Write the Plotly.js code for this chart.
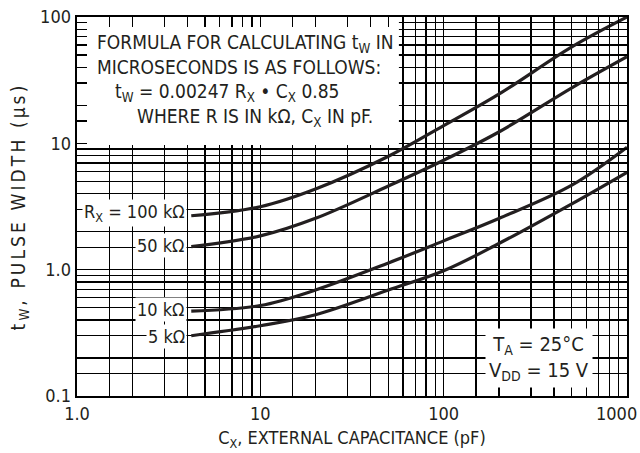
<!DOCTYPE html>
<html>
<head>
<meta charset="utf-8">
<script src="https://cdn.plot.ly/plotly-3.0.1.min.js"></script>
<style>
html,body{margin:0;padding:0;background:#fff;}
#chart{width:640px;height:453px;}
#chart .ytitle{letter-spacing:3.1px;}
</style>
</head>
<body>
<div id="chart"></div>
<script>
// External capacitance (pF)
const capacitance = [4.2, 10, 20, 50, 100, 200, 500, 1000];
// Pulse width (µs) per timing resistor
const tw100k = [2.67, 3.15, 4.35, 7.9, 13.8, 24.5, 58, 100];
const tw50k  = [1.52, 1.85, 2.55, 4.6, 7.35, 12.3, 27.5, 48.5];
const tw10k  = [0.47, 0.52, 0.69, 1.13, 1.69, 2.54, 4.66, 9.3];
const tw5k   = [0.30, 0.36, 0.44, 0.69, 0.98, 1.61, 3.32, 5.9];
const seriesNames = ["100 kΩ", "50 kΩ", "10 kΩ", "5 kΩ"];

// Tick labels and grid positions
const xTickVals = [1, 10, 100];
const xTickText = ["1.0", "10", "100"];
const xEndLabel = "1000";
const xMinorVals = [1.5, 2, 3, 4, 5, 6, 7, 8, 9,
                    15, 20, 30, 40, 50, 60, 70, 80, 90,
                    150, 200, 300, 400, 500, 600, 700, 800, 900, 1000];
const yTickVals = [0.1, 1, 10, 100];
const yTickText = ["0.1", "1.0", "10", "100"];
const yMinorVals = [0.15, 0.2, 0.3, 0.4, 0.5, 0.6, 0.7, 0.8, 0.9,
                    1.5, 2, 3, 4, 5, 6, 7, 8, 9,
                    15, 20, 30, 40, 50, 60, 70, 80, 90];

const ink = "#231f20";
const FONT = "'DejaVu Sans Condensed', 'DejaVu Sans', sans-serif";

const curves = [tw100k, tw50k, tw10k, tw5k].map((ys, i) => ({
  x: capacitance, y: ys, type: "scatter", mode: "lines", name: seriesNames[i],
  line: {color: ink, width: 3.2, shape: "spline", smoothing: 1.0},
  hoverinfo: "skip", showlegend: false
}));

const minorCommon = {
  tickmode: "array", ticks: "inside", ticklen: 10, tickwidth: 1.3, tickcolor: "#000",
  showgrid: true, gridcolor: "#000", gridwidth: 1.3
};

const axisCommon = {
  type: "log", showgrid: true, gridcolor: "#000", gridwidth: 1.3,
  ticks: "inside", ticklen: 10, tickwidth: 1.3, tickcolor: "#000",
  showline: true, linecolor: "#000", linewidth: 2.4, mirror: "allticks",
  zeroline: false, tickmode: "array",
  tickfont: {family: FONT, size: 18, color: ink}
};

const layout = {
  width: 640, height: 453,
  margin: {l: 77, r: 13, t: 17, b: 57},
  paper_bgcolor: "#fff", plot_bgcolor: "#fff",
  font: {family: FONT, color: ink},
  xaxis: Object.assign({}, axisCommon, {
    range: [0, 3],
    tickvals: xTickVals, ticktext: xTickText,
    minor: Object.assign({}, minorCommon, {tickvals: xMinorVals}),
    title: {text: "C<sub>X</sub>, EXTERNAL CAPACITANCE (pF)", font: {family: FONT, size: 18, color: ink}, standoff: 9}
  }),
  yaxis: Object.assign({}, axisCommon, {
    range: [-1, 2],
    tickvals: yTickVals, ticktext: yTickText,
    minor: Object.assign({}, minorCommon, {tickvals: yMinorVals}),
    title: {text: "t<sub>W</sub>, PULSE WIDTH (µs)", font: {family: FONT, size: 19, color: ink}, standoff: 10}
  }),
  shapes: [
    {type: "rect", xref: "x", yref: "y", x0: 1.02, x1: 57, y0: 9.7, y1: 98,
     fillcolor: "#fff", line: {width: 0}, layer: "between"}
  ],
  annotations: [
    {xref: "paper", yref: "paper", x: 1.0215, y: -0.012, xanchor: "right", yanchor: "top", showarrow: false,
     text: xEndLabel, font: {family: FONT, size: 18, color: ink}},

    {xref: "paper", yref: "paper", x: 0.033, y: 0.931, xanchor: "left", yanchor: "middle", showarrow: false,
     text: "FORMULA FOR CALCULATING t<sub>W</sub> IN", font: {family: FONT, size: 19, color: ink}},
    {xref: "paper", yref: "paper", x: 0.033, y: 0.868, xanchor: "left", yanchor: "middle", showarrow: false,
     text: "MICROSECONDS IS AS FOLLOWS:", font: {family: FONT, size: 19, color: ink}},
    {xref: "paper", yref: "paper", x: 0.066, y: 0.802, xanchor: "left", yanchor: "middle", showarrow: false,
     text: "t<sub>W</sub> = 0.00247 R<sub>X</sub> • C<sub>X</sub> 0.85", font: {family: FONT, size: 19, color: ink}},
    {xref: "paper", yref: "paper", x: 0.105, y: 0.736, xanchor: "left", yanchor: "middle", showarrow: false,
     text: "WHERE R IS IN kΩ, C<sub>X</sub> IN pF.", font: {family: FONT, size: 19, color: ink}},

    {xref: "paper", yref: "paper", x: 0.2, y: 0.483, xanchor: "right", yanchor: "middle", showarrow: false,
     text: "R<sub>X</sub> = " + seriesNames[0], bgcolor: "#fff", borderpad: 1, font: {family: FONT, size: 18, color: ink}},
    {xref: "paper", yref: "paper", x: 0.2, y: 0.396, xanchor: "right", yanchor: "middle", showarrow: false,
     text: seriesNames[1], bgcolor: "#fff", borderpad: 1, font: {family: FONT, size: 18, color: ink}},
    {xref: "paper", yref: "paper", x: 0.2, y: 0.227, xanchor: "right", yanchor: "middle", showarrow: false,
     text: seriesNames[2], bgcolor: "#fff", borderpad: 1, font: {family: FONT, size: 18, color: ink}},
    {xref: "paper", yref: "paper", x: 0.2, y: 0.158, xanchor: "right", yanchor: "middle", showarrow: false,
     text: seriesNames[3], bgcolor: "#fff", borderpad: 1, font: {family: FONT, size: 18, color: ink}},

    {xref: "paper", yref: "paper", x: 0.84, y: 0.10, xanchor: "center", yanchor: "middle", showarrow: false,
     text: "T<sub>A</sub> = 25°C<br>V<sub>DD</sub> = 15 V", align: "center", bgcolor: "#fff", borderpad: 3,
     font: {family: FONT, size: 20, color: ink}}
  ]
};

Plotly.newPlot("chart", curves, layout, {staticPlot: true, displayModeBar: false});
</script>
</body>
</html>
